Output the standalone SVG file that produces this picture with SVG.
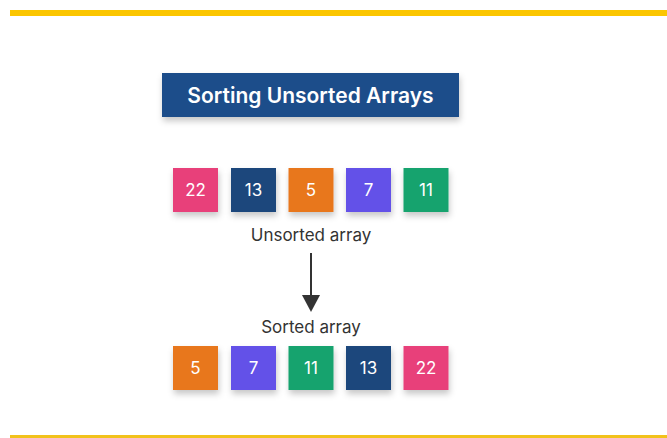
<svg xmlns="http://www.w3.org/2000/svg" width="667" height="438" viewBox="0 0 667 438">
<defs>
<filter id="sh" x="-30%" y="-30%" width="160%" height="170%">
<feDropShadow dx="1" dy="4" stdDeviation="3" flood-color="#000" flood-opacity="0.22"/>
</filter>
</defs>
<style>
.box{filter:url(#sh)}
.num{font-family:Inter,"Liberation Sans",sans-serif;font-size:17px;fill:#fff;text-anchor:middle;dominant-baseline:central}
.lbl{font-family:Inter,"Liberation Sans",sans-serif;font-size:17px;fill:#333;text-anchor:middle}
.pink{fill:#e8407a}.navy{fill:#1e477c}.orange{fill:#e8771f}.purple{fill:#6451e8}.green{fill:#12a36e}
</style>
<rect x="0" y="0" width="667" height="438" fill="#fff"/>
<rect x="10" y="10" width="657" height="6" fill="#fbc600"/>
<rect x="10" y="435" width="657" height="3" fill="#f2c21b"/>
<g id="title">
<rect x="162" y="73" width="297" height="44" fill="#1f4d8a" filter="url(#sh)"/>
<text x="310.5" y="95" font-family="Inter,'Liberation Sans',sans-serif" font-size="21" font-weight="600" fill="#fff" text-anchor="middle" dominant-baseline="central">Sorting Unsorted Arrays</text>
</g>
<g id="unsorted">
<g id="u22"><rect class="box pink" x="173" y="168" width="45" height="44"/><text class="num" x="195.5" y="190">22</text></g>
<g id="u13"><rect class="box navy" x="231" y="168" width="45" height="44"/><text class="num" x="253.5" y="190">13</text></g>
<g id="u5"><rect class="box orange" x="288.5" y="168" width="45" height="44"/><text class="num" x="311" y="190">5</text></g>
<g id="u7"><rect class="box purple" x="346" y="168" width="45" height="44"/><text class="num" x="368.5" y="190">7</text></g>
<g id="u11"><rect class="box green" x="403.5" y="168" width="45" height="44"/><text class="num" x="426" y="190">11</text></g>
</g>
<text class="lbl" x="311" y="241">Unsorted array</text>
<g id="connectors">
<line x1="311" y1="253" x2="311" y2="297" stroke="#333" stroke-width="2"/>
<polygon points="302,295 320,295 311,312" fill="#333"/>
</g>
<text class="lbl" x="311" y="333">Sorted array</text>
<g id="sorted">
<g id="s5"><rect class="box orange" x="173" y="346" width="45" height="44"/><text class="num" x="195.5" y="368">5</text></g>
<g id="s7"><rect class="box purple" x="231" y="346" width="45" height="44"/><text class="num" x="253.5" y="368">7</text></g>
<g id="s11"><rect class="box green" x="288.5" y="346" width="45" height="44"/><text class="num" x="311" y="368">11</text></g>
<g id="s13"><rect class="box navy" x="346" y="346" width="45" height="44"/><text class="num" x="368.5" y="368">13</text></g>
<g id="s22"><rect class="box pink" x="403.5" y="346" width="45" height="44"/><text class="num" x="426" y="368">22</text></g>
</g>
</svg>
